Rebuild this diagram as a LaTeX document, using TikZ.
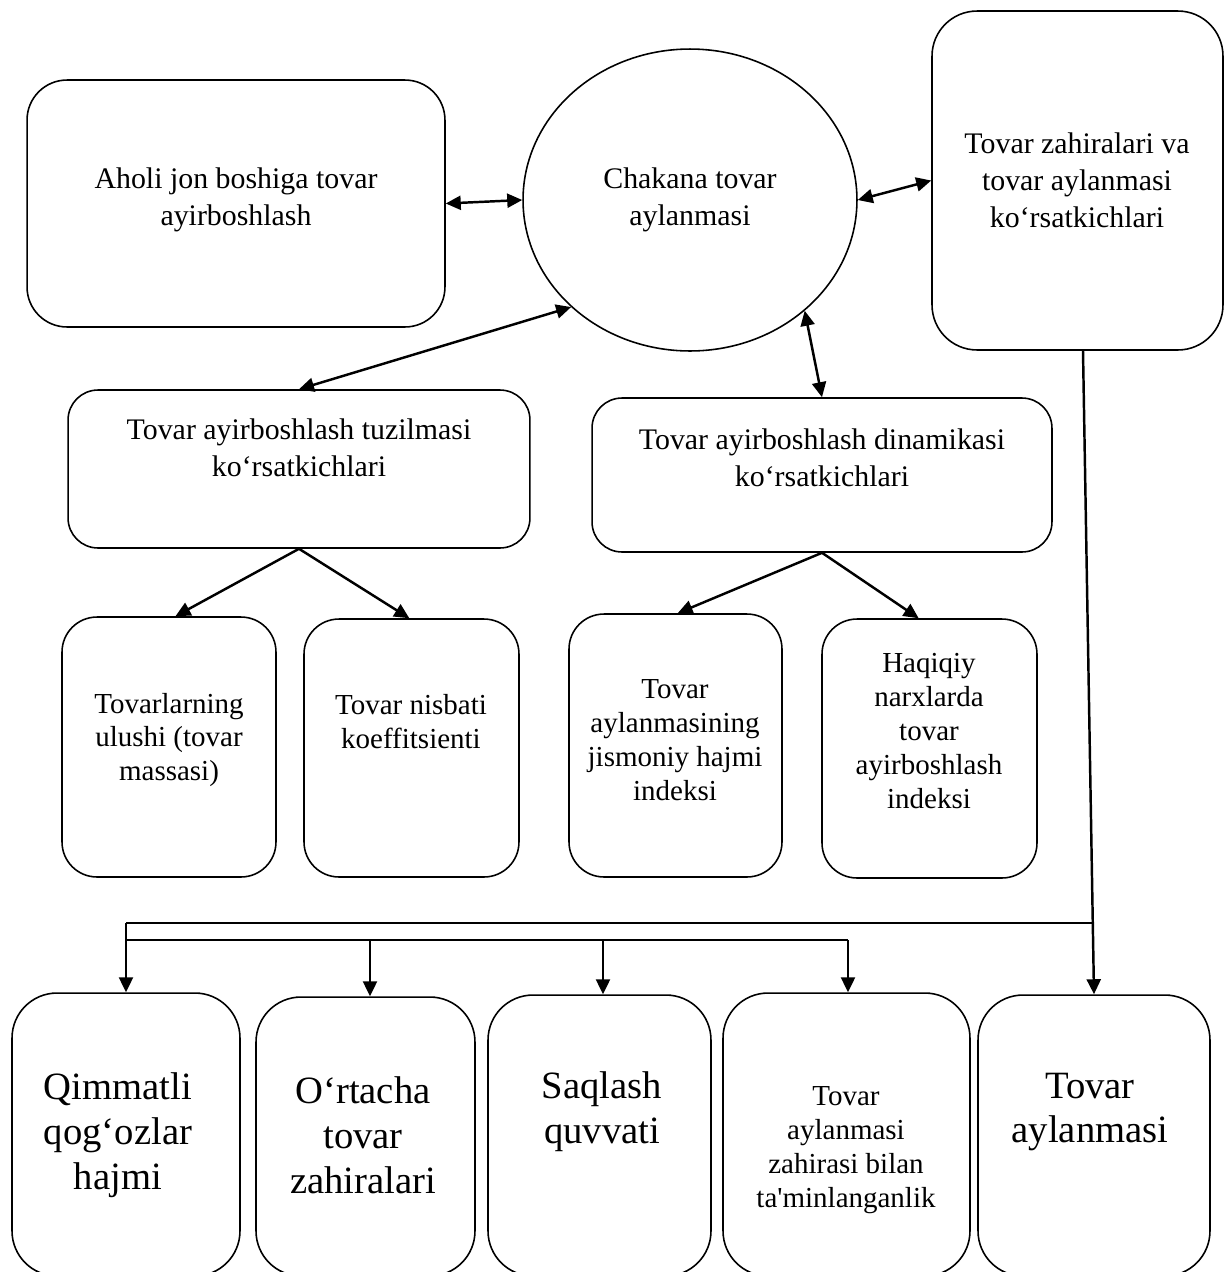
\documentclass[tikz,border=0pt]{standalone}
\usepackage{fontspec}
\setmainfont{Liberation Serif}
\usetikzlibrary{shapes.geometric,arrows.meta,calc}

\tikzset{
  box/.style={draw, line width=0.9pt, rectangle, inner sep=0pt},
  oval/.style={draw, line width=0.9pt, ellipse, inner sep=0pt},
  link/.style={line width=1.4pt},
  twoway/.style={link, {Triangle[length=3mm,width=2.8mm]}-{Triangle[length=3mm,width=2.8mm]}},
  oneway/.style={link, -{Triangle[length=3mm,width=2.8mm]}},
  big/.style={align=center, font=\fontsize{17}{21}\selectfont},
  mid/.style={align=center, font=\fontsize{16.5}{19.3}\selectfont},
  huge/.style={align=center, font=\fontsize{22}{25.5}\selectfont},
}

\begin{document}
\begin{tikzpicture}[x=0.02cm, y=-0.02cm]
\useasboundingbox (0,0) rectangle (1225,1272);
\clip (0,0) rectangle (1225,1272);

% top row
\node[box, rounded corners=0.8cm, minimum width=8.36cm, minimum height=4.94cm] (aholi) at (236,203.5) {};
\node[big] (aholi-t) at (236,200) {Aholi jon boshiga tovar\\ayirboshlash};

\node[oval, minimum width=6.68cm, minimum height=6.04cm] (circ) at (690,200) {};
\node[big] (circ-t) at (690,200) {Chakana tovar\\aylanmasi};

\node[box, rounded corners=0.9cm, minimum width=5.82cm, minimum height=6.78cm] (zah) at (1077.5,180.5) {};
\node[big] (zah-t) at (1077,180) {Tovar zahiralari va\\tovar aylanmasi\\ko‘rsatkichlari};

% second row
\node[box, rounded corners=0.6cm, minimum width=9.24cm, minimum height=3.16cm] (tuz) at (299,469) {};
\node[big] (tuz-t) at (299,448) {Tovar ayirboshlash tuzilmasi\\ko‘rsatkichlari};

\node[box, rounded corners=0.6cm, minimum width=9.2cm, minimum height=3.08cm] (din) at (822,475) {};
\node[big] (din-t) at (822,458) {Tovar ayirboshlash dinamikasi\\ko‘rsatkichlari};

% third row
\node[box, rounded corners=0.7cm, minimum width=4.28cm, minimum height=5.2cm] (ulu) at (169,747) {};
\node[mid] (ulu-t) at (169,740) {Tovarlarning\\ulushi (tovar\\massasi)};

\node[box, rounded corners=0.7cm, minimum width=4.3cm, minimum height=5.16cm] (nis) at (411.5,748) {};
\node[mid] (nis-t) at (411,722) {Tovar nisbati\\koeffitsienti};

\node[box, rounded corners=0.7cm, minimum width=4.26cm, minimum height=5.26cm] (jis) at (675.5,745.5) {};
\node[mid] (jis-t) at (675,740) {Tovar\\aylanmasining\\jismoniy hajmi\\indeksi};

\node[box, rounded corners=0.7cm, minimum width=4.3cm, minimum height=5.18cm] (haq) at (929.5,748.5) {};
\node[mid] (haq-t) at (929,731) {Haqiqiy\\narxlarda\\tovar\\ayirboshlash\\indeksi};

% bottom row
\node[box, rounded corners=0.9cm, minimum width=4.56cm, minimum height=5.66cm] (b1) at (126,1134.5) {};
\node[huge] (b1-t) at (118,1135) {Qimmatli\\qog‘ozlar\\hajmi};

\node[box, rounded corners=0.9cm, minimum width=4.38cm, minimum height=5.58cm] (b2) at (365.5,1136.5) {};
\node[huge] (b2-t) at (363,1135) {O‘rtacha\\tovar\\zahiralari};

\node[box, rounded corners=0.9cm, minimum width=4.46cm, minimum height=5.62cm] (b3) at (599.5,1135.5) {};
\node[huge] (b3-t) at (602,1112) {Saqlash\\quvvati};

\node[box, rounded corners=0.9cm, minimum width=4.94cm, minimum height=5.66cm] (b4) at (846.5,1134.5) {};
\node[mid] (b4-t) at (846,1150) {Tovar\\aylanmasi\\zahirasi bilan\\ta\textquotesingle minlanganlik};

\node[box, rounded corners=0.9cm, minimum width=4.64cm, minimum height=5.62cm] (b5) at (1094,1135.5) {};
\node[huge] (b5-t) at (1090,1112) {Tovar\\aylanmasi};

% links around the central oval
\draw[twoway] (aholi.east) -- (circ.west);
\draw[twoway] (circ.east) -- (zah.west);
\draw[twoway] (circ.222.5) -- (tuz.north);
\draw[twoway] (circ.316.8) -- (din.north);

% branches
\draw[oneway] (tuz.south) -- ($(ulu.north west)!0.53!(ulu.north east)$);
\draw[oneway] (tuz.south) -- ($(nis.north west)!0.49!(nis.north east)$);
\draw[oneway] (din.south) -- ($(jis.north west)!0.51!(jis.north east)$);
\draw[oneway] (din.south) -- ($(haq.north west)!0.45!(haq.north east)$);

% distribution lines to the bottom row
\coordinate (zah-out) at ($(zah.south)+(5.5,0)$);
\coordinate (j1) at (126,923);
\coordinate (j2) at (1092,923);
\coordinate (k1) at (126,940);
\draw[oneway] (zah-out) -- (b5.north);
\draw[link] (j2) -- (j1);
\draw[oneway] (j1) -- (b1.north);
\draw[link] (k1) -- (848,940);
\draw[oneway] (370,940) -- (b2.north -| 370,0);
\draw[oneway] (603,940) -- (b3.north -| 603,0);
\draw[oneway] (848,940) -- (b4.north -| 848,0);
\end{tikzpicture}
\end{document}
